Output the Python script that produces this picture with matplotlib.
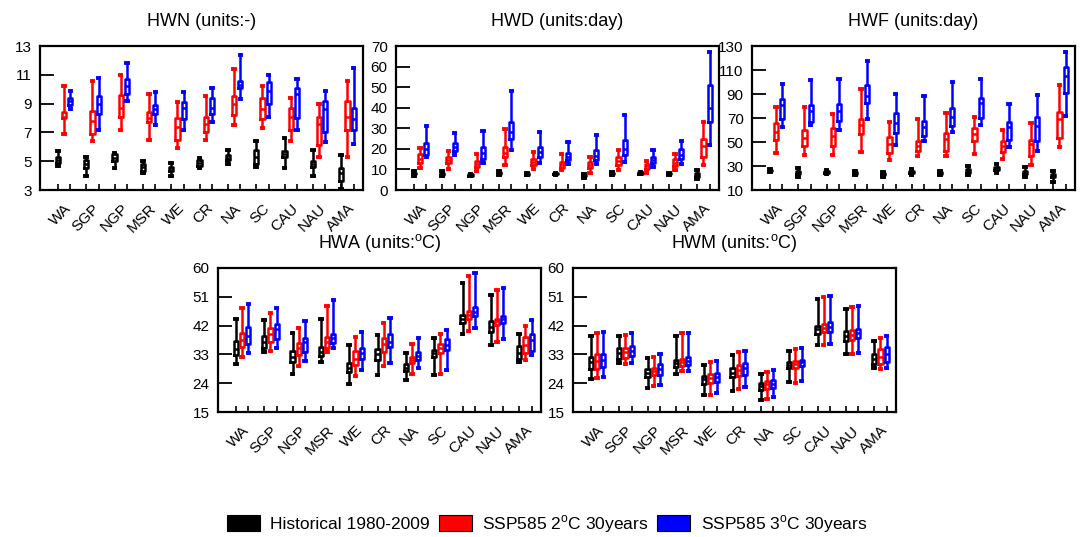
import numpy as np
import matplotlib
matplotlib.use('Agg')
import matplotlib.pyplot as plt
import matplotlib.transforms as mtransforms
from matplotlib.patches import Patch

plt.rcParams['font.family'] = ['Liberation Sans', 'DejaVu Sans']
plt.rcParams['mathtext.fontset'] = 'custom'
plt.rcParams['mathtext.rm'] = 'Liberation Sans'

regions = ['WA', 'SGP', 'NGP', 'MSR', 'WE', 'CR', 'NA', 'SC', 'CAU', 'NAU', 'AMA']

# rows: whisker low, q1, median, q3, whisker high
hwn_hist = [[4.7, 4.9, 5.1, 5.3, 5.7], [4.0, 4.5, 4.8, 5.1, 5.3], [4.5, 5.0, 5.2, 5.5, 5.6],
            [4.2, 4.3, 4.6, 4.8, 5.0], [4.0, 4.3, 4.5, 4.6, 4.9], [4.5, 4.7, 4.9, 5.1, 5.2],
            [4.8, 5.1, 5.2, 5.4, 5.8], [4.6, 4.8, 5.3, 5.8, 6.4], [4.5, 5.3, 5.5, 5.7, 6.6],
            [4.0, 4.6, 4.8, 5.0, 5.8], [3.1, 3.6, 4.2, 4.5, 5.4]]
hwn_2c = [[6.9, 8.0, 8.1, 8.4, 10.2], [6.4, 6.9, 7.8, 8.5, 10.6], [7.2, 8.1, 8.7, 9.6, 11.0],
          [6.5, 7.7, 8.0, 8.4, 9.7], [5.9, 6.5, 7.4, 8.0, 9.1], [6.5, 7.0, 7.6, 8.1, 9.5],
          [7.5, 8.2, 9.0, 9.5, 11.4], [7.3, 7.9, 8.6, 9.4, 10.2], [6.4, 7.2, 8.1, 8.7, 9.4],
          [5.3, 6.1, 7.6, 8.1, 9.0], [5.3, 7.2, 8.1, 9.2, 10.6]]
hwn_3c = [[8.6, 8.9, 9.2, 9.4, 9.9], [7.2, 8.3, 9.0, 9.5, 10.8], [9.2, 9.7, 10.2, 10.7, 11.8],
          [7.5, 8.3, 8.6, 8.9, 9.8], [7.2, 7.9, 8.7, 9.1, 9.8], [7.7, 8.3, 8.7, 9.4, 10.1],
          [9.3, 10.1, 10.3, 10.6, 12.4], [8.1, 9.0, 9.9, 10.5, 11.0], [7.2, 8.0, 9.7, 10.1, 10.7],
          [6.3, 7.0, 8.6, 9.2, 9.9], [6.2, 7.2, 7.9, 8.7, 11.5]]

hwd_hist = [[7.0, 7.6, 8.0, 8.4, 9.0], [7.0, 7.5, 8.0, 8.5, 9.0], [6.8, 7.0, 7.3, 7.6, 7.8],
            [7.5, 7.9, 8.3, 8.7, 9.0], [7.2, 7.5, 7.8, 8.1, 8.3], [7.5, 7.7, 8.0, 8.3, 8.5],
            [6.0, 6.6, 7.0, 7.4, 7.7], [7.3, 7.7, 8.0, 8.3, 8.6], [7.8, 8.0, 8.3, 8.6, 8.8],
            [7.5, 7.7, 8.0, 8.3, 8.5], [5.5, 6.5, 7.5, 8.5, 9.5]]
hwd_2c = [[10.5, 13.0, 15.0, 17.5, 20.5], [10.0, 13.0, 14.5, 16.0, 19.0], [9.0, 11.0, 12.5, 14.0, 17.5],
          [12.0, 16.0, 18.0, 21.0, 29.5], [10.0, 12.0, 13.5, 15.0, 18.5], [9.5, 10.5, 12.0, 13.5, 17.5],
          [8.5, 10.5, 12.0, 13.5, 16.0], [9.5, 12.0, 14.0, 16.0, 19.5], [8.5, 10.0, 11.5, 12.5, 14.0],
          [9.5, 11.5, 13.0, 15.0, 17.5], [12.0, 16.0, 21.5, 25.0, 33.0]]
hwd_3c = [[16.0, 17.0, 20.0, 23.0, 31.0], [17.0, 19.0, 21.0, 23.0, 27.5], [13.0, 15.0, 18.0, 21.0, 28.5],
          [19.5, 25.0, 28.0, 33.0, 48.0], [13.0, 16.0, 18.5, 21.0, 28.0], [12.5, 14.5, 16.0, 18.0, 23.5],
          [12.5, 14.5, 16.5, 19.5, 26.5], [13.5, 17.0, 20.0, 24.5, 36.5], [11.0, 13.0, 14.5, 16.0, 19.5],
          [12.5, 15.0, 17.0, 20.0, 24.0], [22.0, 33.0, 40.0, 51.0, 67.0]]

hwf_hist = [[25.0, 25.5, 26.1, 26.8, 27.5], [21.0, 23.5, 24.8, 26.0, 28.0], [23.5, 24.3, 25.0, 25.8, 27.0],
            [22.5, 23.3, 23.9, 24.6, 25.5], [21.1, 22.4, 23.3, 24.2, 25.3], [22.5, 24.0, 25.0, 26.0, 27.5],
            [22.5, 23.5, 24.2, 24.9, 25.8], [22.5, 24.5, 26.0, 27.5, 30.0], [23.9, 26.5, 28.0, 29.5, 32.0],
            [21.0, 23.0, 24.2, 25.5, 28.9], [17.0, 20.5, 22.0, 23.5, 26.0]]
hwf_2c = [[40.6, 52.0, 58.6, 65.5, 79.4], [38.9, 47.0, 53.6, 60.0, 78.9], [38.9, 46.7, 55.0, 62.0, 73.3],
          [41.7, 56.4, 64.2, 69.2, 94.4], [35.0, 40.6, 48.0, 54.0, 66.4], [38.3, 42.8, 47.0, 51.1, 68.9],
          [38.3, 42.5, 52.2, 57.8, 74.4], [40.0, 50.8, 56.4, 61.4, 71.1], [35.6, 41.9, 47.0, 50.8, 60.0],
          [30.8, 38.3, 48.0, 51.7, 66.1], [45.6, 53.6, 69.2, 75.3, 97.2]]
hwf_3c = [[62.2, 69.0, 80.8, 85.5, 98.3], [64.2, 67.0, 75.8, 80.8, 101.7], [60.0, 67.8, 75.8, 81.4, 102.5],
          [69.2, 82.2, 88.6, 97.8, 117.2], [47.5, 57.8, 65.6, 74.4, 89.7], [50.8, 55.0, 62.2, 67.8, 88.6],
          [58.3, 63.3, 71.1, 78.6, 99.7], [63.9, 69.7, 82.2, 86.9, 102.8], [45.6, 51.7, 62.8, 66.9, 81.7],
          [42.5, 50.8, 63.6, 70.6, 89.2], [71.7, 90.6, 105.0, 112.8, 124.7]]

hwa_hist = [[30.0, 32.8, 34.7, 37.2, 44.1], [33.8, 34.9, 37.0, 38.8, 43.8], [27.0, 30.5, 32.3, 34.2, 39.8],
            [30.7, 32.6, 33.8, 35.4, 44.1], [23.6, 27.6, 28.9, 30.2, 35.9], [26.5, 31.2, 33.1, 34.7, 39.1],
            [24.9, 27.9, 28.9, 30.0, 33.5], [26.5, 32.3, 33.3, 34.4, 38.0], [39.3, 42.7, 44.1, 45.3, 55.3],
            [35.9, 40.1, 41.7, 43.3, 51.6], [30.5, 31.5, 33.3, 35.6, 39.4]]
hwa_2c = [[32.3, 35.4, 37.5, 39.8, 47.4], [34.0, 36.8, 39.3, 41.4, 45.8], [29.4, 32.8, 34.9, 36.6, 41.4],
          [33.8, 34.9, 36.8, 38.5, 48.0], [26.3, 29.7, 31.7, 34.2, 38.3], [29.3, 33.6, 36.1, 38.2, 42.9],
          [27.0, 30.2, 31.2, 32.3, 36.1], [27.0, 33.3, 34.9, 36.1, 39.4], [40.3, 44.0, 45.3, 46.7, 57.4],
          [37.0, 42.2, 43.3, 44.1, 53.2], [31.2, 33.5, 35.9, 38.3, 42.0]]
hwa_3c = [[33.5, 36.2, 38.9, 41.5, 48.8], [35.1, 37.8, 40.8, 42.4, 47.4], [31.0, 33.6, 36.8, 38.2, 43.3],
          [34.9, 36.5, 38.0, 39.4, 50.0], [28.1, 31.5, 33.3, 35.1, 39.9], [30.2, 35.4, 36.8, 39.4, 44.5],
          [28.6, 31.2, 32.6, 33.6, 38.0], [28.1, 34.4, 35.9, 37.8, 40.7], [41.2, 45.0, 46.4, 47.8, 58.4],
          [37.7, 42.7, 44.0, 45.0, 53.9], [32.8, 34.2, 37.5, 39.4, 43.6]]

hwm_hist = [[25.3, 28.4, 30.5, 32.3, 38.9], [30.2, 31.7, 33.5, 35.1, 38.9], [22.6, 26.0, 27.2, 28.4, 32.0],
            [27.0, 29.1, 30.2, 31.2, 38.7], [20.2, 23.9, 25.2, 26.3, 29.7], [21.6, 26.0, 27.3, 28.6, 32.8],
            [18.9, 21.8, 23.1, 24.1, 27.0], [24.4, 28.6, 29.7, 30.7, 34.2], [35.9, 39.4, 40.8, 42.0, 50.4],
            [33.1, 37.2, 38.8, 40.3, 47.1], [28.6, 30.0, 31.5, 33.1, 37.3]]
hwm_2c = [[25.5, 28.4, 30.9, 33.1, 39.7], [30.0, 32.0, 33.6, 34.9, 39.1], [23.1, 26.5, 27.8, 28.8, 32.3],
          [27.8, 29.4, 30.5, 31.5, 39.6], [20.4, 24.2, 25.5, 26.8, 30.7], [22.3, 26.3, 28.1, 29.7, 33.8],
          [19.2, 22.3, 23.6, 24.6, 27.6], [24.2, 28.8, 30.0, 30.9, 34.7], [35.9, 39.9, 41.2, 42.4, 50.8],
          [33.1, 37.5, 39.1, 40.6, 47.8], [28.3, 30.0, 32.3, 34.6, 38.0]]
hwm_3c = [[26.0, 29.1, 31.2, 33.1, 40.1], [30.4, 32.6, 34.2, 35.7, 39.8], [23.4, 26.7, 28.4, 29.9, 33.0],
          [27.9, 29.7, 30.9, 32.3, 39.8], [20.8, 24.4, 25.9, 27.3, 30.9], [22.8, 26.7, 28.6, 30.2, 34.0],
          [19.7, 22.5, 23.9, 24.9, 28.0], [24.6, 29.3, 30.5, 31.4, 35.1], [36.2, 40.1, 41.7, 43.0, 51.2],
          [33.3, 38.0, 39.6, 41.0, 48.0], [28.6, 30.7, 33.1, 35.2, 38.8]]

series_colors = ['black', 'red', 'blue']
series_labels = ['Historical 1980-2009', r'SSP585 2$^{\rm o}$C 30years', r'SSP585 3$^{\rm o}$C 30years']

panels = [
    ('HWN (units:-)', [hwn_hist, hwn_2c, hwn_3c], (3, 13), np.arange(3, 14, 2)),
    ('HWD (units:day)', [hwd_hist, hwd_2c, hwd_3c], (0, 70), np.arange(0, 71, 10)),
    ('HWF (units:day)', [hwf_hist, hwf_2c, hwf_3c], (10, 130), np.arange(10, 131, 20)),
    (r'HWA (units:$^{\rm o}$C)', [hwa_hist, hwa_2c, hwa_3c], (15, 60), np.arange(15, 61, 9)),
    (r'HWM (units:$^{\rm o}$C)', [hwm_hist, hwm_2c, hwm_3c], (15, 60), np.arange(15, 61, 9)),
]

W, H = 1083, 537
boxes_px = [(40, 46), (396, 46), (752, 46), (218, 268), (573, 268)]
aw, ah = 323, 144

fig = plt.figure(figsize=(W / 100, H / 100), dpi=100)

centers = np.arange(1, len(regions) + 1)
offsets = [-0.22, 0.0, 0.22]
label_shift = mtransforms.ScaledTranslation(5 / 100, 0, fig.dpi_scale_trans)

for (title, series, ylim, yticks), (px, py) in zip(panels, boxes_px):
    ax = fig.add_axes([px / W, 1 - (py + ah) / H, aw / W, ah / H])
    for rows, col, off in zip(series, series_colors, offsets):
        stats = [dict(whislo=r[0], q1=r[1], med=r[2], q3=r[3], whishi=r[4]) for r in rows]
        lp = dict(color=col, linewidth=1.8)
        ax.bxp(stats, positions=centers + off, widths=0.15, showfliers=False,
               manage_ticks=False, capwidths=0.05,
               boxprops=lp, whiskerprops=lp, medianprops=lp,
               capprops=dict(color=col, linewidth=2.8))
    ax.set_xlim(0.15, 11.55)
    ax.set_ylim(*ylim)
    ax.set_yticks(yticks)
    ax.set_xticks(centers)
    ax.set_xticklabels(regions, rotation=45, ha='right', rotation_mode='anchor', fontsize=11)
    for lab in ax.get_xticklabels():
        lab.set_transform(lab.get_transform() + label_shift)
    minor = np.sort(np.concatenate([centers + o for o in offsets]))
    ax.set_xticks(minor, minor=True)
    ax.tick_params(axis='x', which='major', length=0, pad=8)
    ax.tick_params(axis='x', which='minor', direction='in', length=4, width=1.2, top=False)
    ax.tick_params(axis='y', which='major', direction='in', length=10, width=1.3,
                   labelsize=11, right=False, pad=6)
    for s in ax.spines.values():
        s.set_linewidth(1.6)
    ax.text(0.5, 1 + 20 / ah, title, transform=ax.transAxes, ha='center', va='baseline',
            fontsize=13)

handles = [Patch(facecolor=c, edgecolor='black', linewidth=0.8) for c in series_colors]
fig.legend(handles, series_labels, loc='center', bbox_to_anchor=(0.505, 1 - 524 / H),
           ncol=3, frameon=False, fontsize=12.5, handlelength=1.9, handleheight=1.0,
           handletextpad=0.6, columnspacing=0.5)

fig.savefig('out.png', dpi=100)
